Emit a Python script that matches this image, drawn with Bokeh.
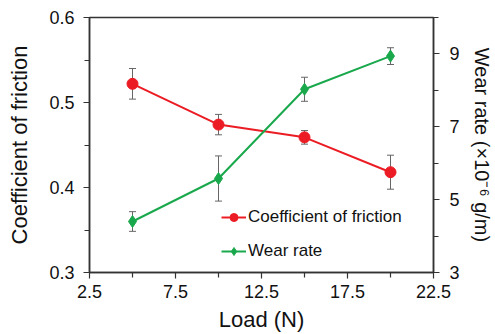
from bokeh.plotting import figure
from bokeh.models import (Range1d, LinearAxis, FixedTicker, Whisker, ColumnDataSource,
                          Legend, LegendItem, TeeHead)
from bokeh.embed import file_html
from bokeh.resources import INLINE

load = [5, 10, 15, 20]
cof = [0.522, 0.474, 0.459, 0.418]
cof_err = [0.018, 0.012, 0.008, 0.020]
wear = [4.40, 5.58, 8.03, 8.94]
wear_err = [0.27, 0.62, 0.33, 0.23]

x_ticks = [2.5, 7.5, 12.5, 17.5, 22.5]
x_minor = [5, 10, 15, 20]
cof_ticks = [0.3, 0.4, 0.5, 0.6]
cof_minor = [0.35, 0.45, 0.55]
wear_ticks = [3, 5, 7, 9]
wear_minor = [4, 6, 8, 10]

RED = "#ec1c24"
GREEN = "#1aa84c"
GRAY = "#666666"
AX = "#333333"
TXT = "#111111"
FONT = "Liberation Sans"

p = figure(width=495, height=334, output_backend="svg", toolbar_location=None,
           x_range=Range1d(2.5, 22.5), y_range=Range1d(0.3, 0.6),
           min_border_left=89, min_border_right=59, min_border_top=17, min_border_bottom=61)
p.extra_y_ranges = {"wear": Range1d(3, 10)}
p.xgrid.visible = False
p.ygrid.visible = False
p.outline_line_color = AX
p.outline_line_width = 1.5
p.background_fill_color = "white"
p.border_fill_color = "white"

def style(ax, ticks, minor, fmt_size="18px"):
    ax.ticker = FixedTicker(ticks=ticks, minor_ticks=minor)
    ax.axis_line_color = AX
    ax.axis_line_width = 1.5
    ax.major_tick_line_color = AX
    ax.minor_tick_line_color = AX
    ax.major_tick_line_width = 1.2
    ax.minor_tick_line_width = 1.2
    ax.major_tick_in = 0
    ax.minor_tick_in = 0
    ax.major_tick_out = 6
    ax.minor_tick_out = 5
    ax.major_label_text_font = FONT
    ax.major_label_text_font_size = fmt_size
    ax.major_label_text_color = TXT
    ax.axis_label_text_font = FONT
    ax.axis_label_text_font_style = "normal"
    ax.axis_label_text_color = TXT

xa = p.xaxis[0]
style(xa, x_ticks, x_minor)
xa.axis_label = "Load (N)"
xa.axis_label_text_font_size = "22px"
xa.major_label_standoff = 6
xa.axis_label_standoff = 6

ya = p.yaxis[0]
style(ya, cof_ticks, cof_minor)
ya.axis_label = "Coefficient of friction"
ya.axis_label_text_font_size = "22px"
ya.major_label_standoff = 9
ya.axis_label_standoff = 14

ra = LinearAxis(y_range_name="wear")
style(ra, wear_ticks, wear_minor)
ra.major_label_standoff = 10
ra.axis_label = "Wear rate (×10⁻⁶ g/m)"
ra.axis_label_text_font_size = "20px"
ra.axis_label_standoff = 8
p.add_layout(ra, "right")

src_c = ColumnDataSource(dict(x=load, y=cof,
                              up=[a + b for a, b in zip(cof, cof_err)],
                              lo=[a - b for a, b in zip(cof, cof_err)]))
src_w = ColumnDataSource(dict(x=load, y=wear,
                              up=[a + b for a, b in zip(wear, wear_err)],
                              lo=[a - b for a, b in zip(wear, wear_err)]))

for src, rng in ((src_c, "default"), (src_w, "wear")):
    w = Whisker(base="x", upper="up", lower="lo", source=src, line_color=GRAY, line_width=1,
                upper_head=TeeHead(size=7, line_color=GRAY, line_width=1),
                lower_head=TeeHead(size=7, line_color=GRAY, line_width=1))
    w.y_range_name = rng
    p.add_layout(w)

lc = p.line("x", "y", source=src_c, line_color=RED, line_width=2)
sc = p.scatter("x", "y", source=src_c, marker="circle", size=11, fill_color=RED, line_color=RED)
lw = p.line("x", "y", source=src_w, line_color=GREEN, line_width=2, y_range_name="wear")
sw = p.scatter("x", "y", source=src_w, marker="diamond", size=12, fill_color=GREEN,
               line_color=GREEN, y_range_name="wear")

legend = Legend(items=[LegendItem(label="Coefficient of friction", renderers=[lc, sc]),
                       LegendItem(label="Wear rate", renderers=[lw, sw])],
                location=(132, 11), border_line_color=None, background_fill_alpha=0,
                label_text_font=FONT, label_text_font_size="17px", label_text_color=TXT,
                glyph_width=25, glyph_height=20, label_height=20, label_standoff=2,
                spacing=14, padding=0, margin=0)
p.add_layout(legend)

open("out.html", "w").write(file_html(p, INLINE))
